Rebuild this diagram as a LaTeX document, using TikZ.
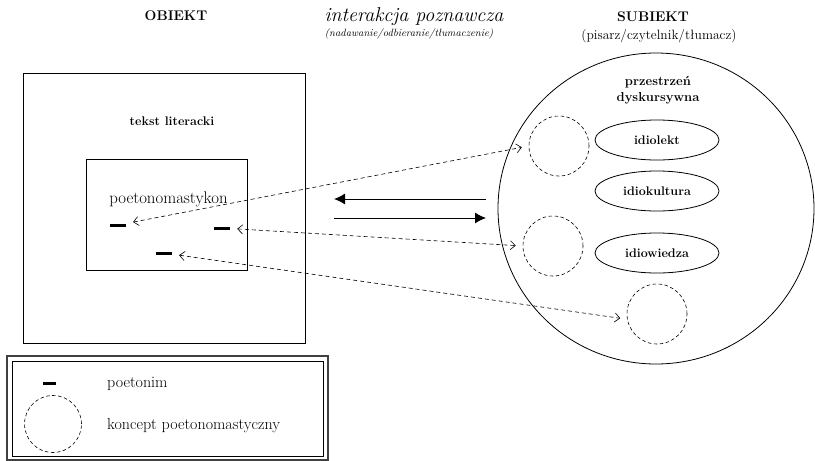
\documentclass[tikz,border=0pt]{standalone}
\usepackage{fontspec}
\usetikzlibrary{arrows.meta,shapes.geometric}
\begin{document}
\begin{tikzpicture}[x=1pt,y=-1pt,
    head/.style={font=\fontsize{14}{16}\selectfont\bfseries, anchor=base, inner sep=0pt},
    sub/.style={font=\fontsize{13.5}{15}\selectfont, anchor=base, inner sep=0pt},
    bold/.style={font=\fontsize{12.5}{14}\selectfont\bfseries, anchor=base, inner sep=0pt},
    plain/.style={font=\fontsize{16}{18}\selectfont, inner sep=0pt},
    frame/.style={draw, line width=0.8pt, inner sep=0pt},
    idio/.style={draw, ellipse, line width=0.8pt, inner sep=0pt, minimum width=124pt, minimum height=40pt, font=\fontsize{12.5}{14}\selectfont\bfseries},
    koncept/.style={draw, circle, dash pattern=on 3.5pt off 2.5pt, line width=0.6pt, minimum size=60pt, inner sep=0pt},
    onim/.style={fill=black, rectangle, minimum width=16pt, minimum height=3pt, inner sep=0pt},
    link/.style={dash pattern=on 4pt off 3pt, line width=0.6pt, {Straight Barb[length=5pt,width=9pt]}-{Straight Barb[length=5pt,width=9pt]}, shorten <=7pt, shorten >=7pt},
    flow/.style={line width=1pt, -{Latex[length=11pt,width=11pt]}}]
    \useasboundingbox (0,0) rectangle (815,461);

    % Headings
    \node[head] (obiekt) at (176,20) {OBIEKT};
    \node[head, font=\fontsize{20}{22}\selectfont\itshape] (inter) at (414,21) {interakcja poznawcza};
    \node[sub, font=\fontsize{10.5}{12}\selectfont\itshape] (intersub) at (409,36) {(nadawanie/odbieranie/tłumaczenie)};
    \node[head] (subiekt) at (653,21) {SUBIEKT};
    \node[sub] (subiektsub) at (659,39) {(pisarz/czytelnik/tłumacz)};

    % Object side: text and its poetonomasticon
    \node[frame, minimum width=282pt, minimum height=270pt] (tekst) at (164,208) {};
    \node[bold] at (172,125) {tekst literacki};
    \node[frame, minimum width=161pt, minimum height=111pt] (poet) at (166.5,214.5) {};
    \node[plain, anchor=base, font=\fontsize{16.8}{18}\selectfont] at (168.5,203) {poetonomastykon};
    \node[onim] (d1) at (118,225) {};
    \node[onim] (d2) at (222,228) {};
    \node[onim] (d3) at (164,253) {};

    % Subject side: discursive space
    \node[draw, ellipse, line width=0.8pt, minimum width=316pt, minimum height=311pt] (przestrzen) at (656,208.5) {};
    \node[bold, font=\fontsize{13}{15}\selectfont\bfseries] at (658,85) {przestrzeń};
    \node[bold, font=\fontsize{13}{15}\selectfont\bfseries] at (658,101) {dyskursywna};
    \node[idio] (idiolekt) at (657,140) {idiolekt};
    \node[idio] (idiokultura) at (657,191) {idiokultura};
    \node[idio] (idiowiedza) at (657,253) {idiowiedza};
    \node[koncept] (c1) at (559,146) {};
    \node[koncept] (c2) at (553,246) {};
    \node[koncept] (c3) at (657,314) {};

    % Interaction arrows
    \coordinate (r1) at (486,199);
    \coordinate (l1) at (334,199);
    \coordinate (l2) at (334,218);
    \coordinate (r2) at (486,218);
    \draw[flow] (r1) -- (l1);
    \draw[flow] (l2) -- (r2);

    % Poetonyms linked with their concepts
    \draw[link] (d1) -- (c1.west);
    \draw[link] (d2) -- (c2.west);
    \draw[link] (d3) -- (c3.190);

    % Legend
    \draw[line width=1.5pt, draw=black!75] (7,356) rectangle (328,460);
    \draw[line width=0.7pt] (12,361) rectangle (323,456);
    \node[onim, minimum width=13pt] (legonim) at (49,383) {};
    \node[koncept, minimum size=57pt] (legkoncept) at (53,424) {};
    \node[plain, anchor=base west] (legtxt1) at (107,387) {poetonim};
    \node[plain, anchor=base west] (legtxt2) at (107,429) {koncept poetonomastyczny};
\end{tikzpicture}
\end{document}
